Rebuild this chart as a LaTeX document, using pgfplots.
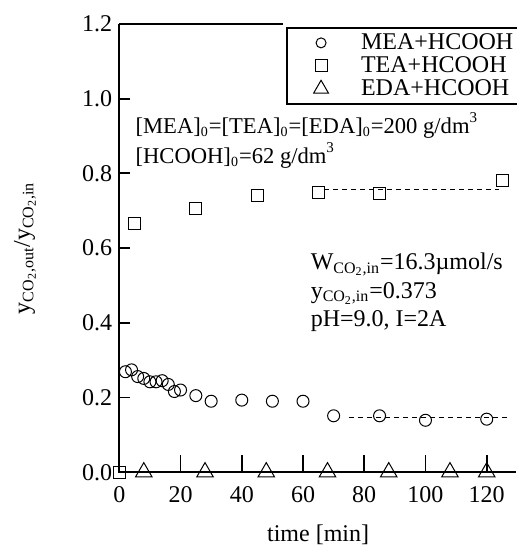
\documentclass[border=0pt]{standalone}
\usepackage{fontspec}
\setmainfont{Liberation Serif}
\usepackage{pgfplots}
\pgfplotsset{compat=1.18}
\newcommand{\ssub}[1]{\textsubscript{\fontsize{7}{7}\selectfont #1}}
\newcommand{\ssup}[1]{\raisebox{1.05ex}{\fontsize{7.5}{7.5}\selectfont #1}}

\begin{document}
\begin{tikzpicture}[font=\fontsize{12}{14}\selectfont]
\begin{axis}[
  scale only axis, width=198.4pt, height=224.1pt,
  xmin=0, xmax=129.6, ymin=0, ymax=1.2,
  axis line style={draw=none},
  clip=false,
  xtick={0,20,...,120}, ytick={0,0.2,0.4,0.6,0.8,1.0,1.2},
  xtick pos=left, ytick pos=left, tick align=inside,
  major tick style={line width=0.9pt, black},
  xtick style={/pgfplots/major tick length=8.5pt},
  ytick style={/pgfplots/major tick length=5.3pt},
  /pgf/number format/assume math mode=true,
  yticklabel style={/pgf/number format/fixed, /pgf/number format/fixed zerofill, /pgf/number format/precision=1},
  xticklabel style={yshift=-3.4pt},
  xlabel={time [min]},
  xlabel style={at={(axis description cs:0.501,0)}, anchor=base, yshift=-34.75pt},
  ylabel={y\textsubscript{CO\textsubscript{2},out}/y\textsubscript{CO\textsubscript{2},in}},
  ylabel style={at={(axis description cs:-0.2378,0.5)}, anchor=center},
  legend style={at={(axis cs:54.5,1.192)}, anchor=north west, draw=black, line width=0.9pt,
    fill=white, inner xsep=5pt, inner ysep=3pt, row sep=2.5pt, column sep=8pt,
    font=\fontsize{12}{14}\selectfont, cells={anchor=west},
    nodes={inner sep=0pt, text height=8pt, text depth=1pt}},
  legend image code/.code={\path[draw=none, fill=none] (0pt,-4.5pt) (24pt,4.5pt); \draw[#1] plot coordinates {(12pt,0pt)};},
]
% axis frame: left, bottom and part of the top
\draw[line width=1pt] (rel axis cs:0,1) -- (rel axis cs:0,0) -- (rel axis cs:1,0);
\draw[line width=1pt] (axis cs:0,1.2) -- (axis cs:53.5,1.2);

% MEA+HCOOH
\addplot[only marks, mark=o, mark size=3pt, mark options={line width=0.5pt, black},
  legend image post style={mark size=2.5pt}] coordinates {
  (2,0.269) (4,0.274) (6,0.256) (8,0.251) (10,0.242) (12,0.242) (14,0.245)
  (16,0.235) (18,0.216) (20,0.220) (25,0.205) (30,0.190) (40,0.193)
  (50,0.190) (60,0.190) (70,0.151) (85,0.151) (100,0.139) (120,0.142)};
\addlegendentry{MEA+HCOOH}
% TEA+HCOOH
\addplot[only marks, mark=square, mark size=3pt, mark options={line width=0.5pt, black}] coordinates {
  (0,0) (5,0.665) (25,0.706) (45,0.740) (65,0.748) (85,0.745) (125,0.780)};
\addlegendentry{TEA+HCOOH}
% EDA+HCOOH
\addplot[only marks, mark=triangle, mark size=4.8pt, mark options={line width=0.5pt, black},
  legend image post style={mark size=4.3pt}] coordinates {
  (8,0) (28,0) (48,0) (68,0) (88,0) (108,0) (120,0)};
\addlegendentry{EDA+HCOOH}
% steady-state levels
\addplot[forget plot, black, line width=0.5pt, dash pattern=on 2.5pt off 2pt] coordinates {(75,0.147) (127,0.147)};
\addplot[forget plot, black, line width=0.5pt, dash pattern=on 2.5pt off 2pt] coordinates {(67,0.758) (124,0.758)};

\node[anchor=base west, inner sep=0pt, font=\fontsize{11.3}{14}\selectfont] at (axis cs:5.2,0.907)
  {[MEA]\ssub{0}=[TEA]\ssub{0}=[EDA]\ssub{0}=200 g/dm\ssup{3}};
\node[anchor=base west, inner sep=0pt, font=\fontsize{11.3}{14}\selectfont] at (axis cs:5.2,0.827)
  {[HCOOH]\ssub{0}=62 g/dm\ssup{3}};
\node[anchor=base west, inner sep=0pt] at (axis cs:62.4,0.542)
  {W\textsubscript{CO\textsubscript{2},in}=16.3µmol/s};
\node[anchor=base west, inner sep=0pt] at (axis cs:62.4,0.466)
  {y\textsubscript{CO\textsubscript{2},in}=0.373};
\node[anchor=base west, inner sep=0pt] at (axis cs:62.4,0.390)
  {pH=9.0, I=2A};

\coordinate (BL) at (rel axis cs:0,0);
\coordinate (TR) at (rel axis cs:1,1);
\end{axis}
\pgfresetboundingbox
\path ([xshift=-59.65pt, yshift=-38.4pt]BL) rectangle ([yshift=12pt]TR);
\end{tikzpicture}
\end{document}
